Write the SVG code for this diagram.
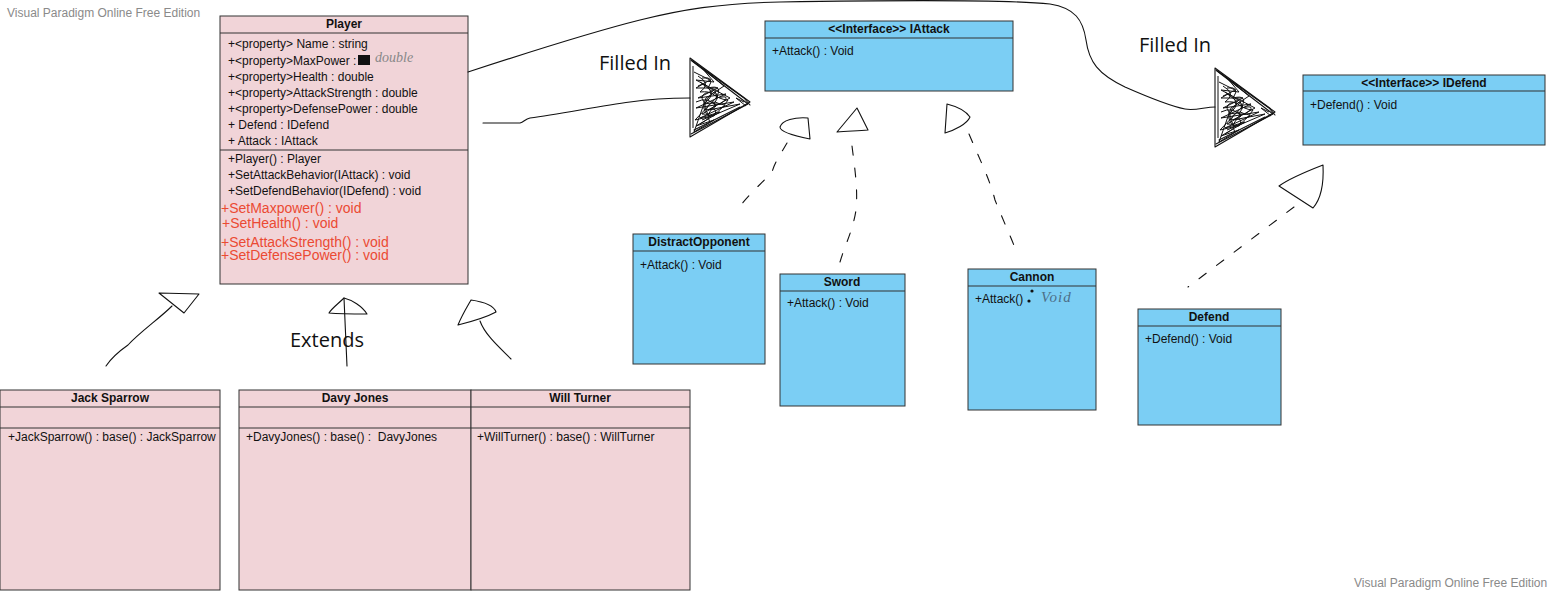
<svg xmlns="http://www.w3.org/2000/svg" width="1552" height="592" viewBox="0 0 1552 592">
<style>
.box{stroke:#333;stroke-width:1}
.pink{fill:#F1D4D8}
.blue{fill:#7BCEF4}
.div{stroke:#333;stroke-width:1}
.t{font-family:"Liberation Sans",Arial,sans-serif;font-size:12px;fill:#111}
.b{font-weight:bold;text-anchor:middle}
.red{font-family:"Liberation Sans",Arial,sans-serif;font-size:14px;fill:#EB4A33}
.wm{font-family:"Liberation Sans",Arial,sans-serif;font-size:12px;fill:#8a8a8a}
.hand{font-family:"Open Sans","Noto Sans",sans-serif;font-size:20px;fill:#111}
.ln{fill:none;stroke:#111;stroke-width:1.1;stroke-linecap:round;stroke-linejoin:round}
.dash{fill:none;stroke:#111;stroke-width:1.1;stroke-dasharray:9 13;stroke-linecap:round}
.scr{fill:none;stroke:#111;stroke-width:1;stroke-linejoin:round}
</style>
<defs>
<g id="filledTri">
<path class="ln" d="M0,0 L60,44 L0,79 Z"/>
<path class="ln" d="M2,3 L58,46 L1,76"/>
<path class="ln" d="M1,2 L54,40 L60,47 M4,72 L50,49"/>
<path class="scr" d="M4,14 L20,22 L6,30 L28,30 L8,40 L36,36 L6,50 L44,44 L10,60 L30,54 L6,68 L24,62 L4,74 L16,40 L34,28 L12,10 L24,24 L6,22 L40,40 L18,52 L50,46 L22,58 L5,62 L28,38 L10,24"/>
<path class="scr" d="M8,18 Q22,26 10,34 Q30,32 14,46 Q38,42 12,56 Q28,56 10,66 M20,30 Q32,36 24,46 Q42,46 30,50 M6,44 Q18,38 26,48 Q14,56 20,64 M54,44 L46,40 L56,48 M3,8 L3,70"/>
<path class="scr" d="M12,20 Q26,18 18,30 Q34,26 26,40 Q44,36 30,46 Q20,40 16,52 Q30,48 24,58 Q12,58 14,44 Q8,36 20,34 Q30,42 38,42 Q30,56 12,62 M8,28 Q16,22 22,36 Q10,46 18,56"/>
</g>
</defs>
<rect width="1552" height="592" fill="#fff"/>
<text class="wm" x="7" y="17">Visual Paradigm Online Free Edition</text>
<text class="wm" x="1354" y="587">Visual Paradigm Online Free Edition</text>

<g id="Player">
<rect class="box pink" x="220" y="16" width="248" height="268"/>
<line class="div" x1="220" y1="33" x2="468" y2="33"/>
<line class="div" x1="220" y1="150" x2="468" y2="150"/>
<text class="t b" x="344" y="28">Player</text>
<text class="t" x="228" y="48">+&lt;property&gt; Name : string</text>
<text class="t" x="228" y="65">+&lt;property&gt;MaxPower :</text>
<rect x="358" y="55" width="12" height="10" fill="#111"/>
<text x="375" y="62" style="font-family:'Liberation Serif',serif;font-style:italic;font-size:14px;fill:#888">double</text>
<text class="t" x="228" y="81">+&lt;property&gt;Health : double</text>
<text class="t" x="228" y="97">+&lt;property&gt;AttackStrength : double</text>
<text class="t" x="228" y="113">+&lt;property&gt;DefensePower : double</text>
<text class="t" x="228" y="129">+ Defend : IDefend</text>
<text class="t" x="228" y="145">+ Attack : IAttack</text>
<text class="t" x="228" y="163">+Player() : Player</text>
<text class="t" x="228" y="179">+SetAttackBehavior(IAttack) : void</text>
<text class="t" x="228" y="195">+SetDefendBehavior(IDefend) : void</text>
<text class="red" x="221" y="213">+SetMaxpower() : void</text>
<text class="red" x="222" y="228">+SetHealth() : void</text>
<text class="red" x="221" y="247">+SetAttackStrength() : void</text>
<text class="red" x="221" y="260">+SetDefensePower() : void</text>
</g>

<g id="IAttack">
<rect class="box blue" x="765" y="21" width="248" height="70"/>
<line class="div" x1="765" y1="38" x2="1013" y2="38"/>
<text class="t b" x="889" y="33">&lt;&lt;Interface&gt;&gt; IAttack</text>
<text class="t" x="772" y="55">+Attack() : Void</text>
</g>

<g id="IDefend">
<rect class="box blue" x="1303" y="75" width="242" height="70"/>
<line class="div" x1="1303" y1="91" x2="1545" y2="91"/>
<text class="t b" x="1424" y="87">&lt;&lt;Interface&gt;&gt; IDefend</text>
<text class="t" x="1310" y="109">+Defend() : Void</text>
</g>

<g id="DistractOpponent">
<rect class="box blue" x="633" y="234" width="132" height="130"/>
<line class="div" x1="633" y1="251" x2="765" y2="251"/>
<text class="t b" x="699" y="246">DistractOpponent</text>
<text class="t" x="640" y="269">+Attack() : Void</text>
</g>

<g id="Sword">
<rect class="box blue" x="780" y="274" width="125" height="132"/>
<line class="div" x1="780" y1="291" x2="905" y2="291"/>
<text class="t b" x="842" y="286">Sword</text>
<text class="t" x="787" y="307">+Attack() : Void</text>
</g>

<g id="Cannon">
<rect class="box blue" x="968" y="269" width="128" height="141"/>
<line class="div" x1="968" y1="286" x2="1096" y2="286"/>
<text class="t b" x="1032" y="281">Cannon</text>
<text class="t" x="975" y="303">+Attack()</text>
<circle cx="1032" cy="291" r="1.6" fill="#111"/>
<circle cx="1029" cy="301" r="1.6" fill="#111"/>
<text x="1041" y="302" style="font-family:'Liberation Serif',serif;font-style:italic;font-size:15px;fill:#4d6e88;letter-spacing:1px">Void</text>
</g>

<g id="Defend">
<rect class="box blue" x="1138" y="309" width="143" height="116"/>
<line class="div" x1="1138" y1="326" x2="1281" y2="326"/>
<text class="t b" x="1209" y="321">Defend</text>
<text class="t" x="1145" y="343">+Defend() : Void</text>
</g>

<g id="JackSparrow">
<rect class="box pink" x="0" y="390" width="220" height="200"/>
<line class="div" x1="0" y1="407" x2="220" y2="407"/>
<line class="div" x1="0" y1="428" x2="220" y2="428"/>
<text class="t b" x="110" y="402">Jack Sparrow</text>
<text class="t" x="8" y="441">+JackSparrow() : base() : JackSparrow</text>
</g>

<g id="DavyJones">
<rect class="box pink" x="239" y="390" width="232" height="200"/>
<line class="div" x1="239" y1="407" x2="471" y2="407"/>
<line class="div" x1="239" y1="428" x2="471" y2="428"/>
<text class="t b" x="355" y="402">Davy Jones</text>
<text class="t" x="246" y="441" xml:space="preserve">+DavyJones() : base() :  DavyJones</text>
</g>

<g id="WillTurner">
<rect class="box pink" x="471" y="390" width="219" height="200"/>
<line class="div" x1="471" y1="407" x2="690" y2="407"/>
<line class="div" x1="471" y1="428" x2="690" y2="428"/>
<text class="t b" x="580" y="402">Will Turner</text>
<text class="t" x="477" y="441">+WillTurner() : base() : WillTurner</text>
</g>

<g id="connectors">
<path class="ln" d="M468,72 C520,55 600,30 640,20 C680,10 720,3 780,2 C900,0 1010,0 1050,4 C1075,8 1083,20 1086,40 C1089,62 1098,74 1125,87 C1150,98 1170,106 1185,109 C1195,111 1205,107 1215,107"/>
<use href="#filledTri" x="1215" y="68"/>
<path class="ln" d="M483,123 L520,123 C524,122 525,119 530,118 C560,114 600,106 630,102 C650,99 670,98 690,98"/>
<use href="#filledTri" x="690" y="58"/>
<text class="hand" x="599" y="70">Filled In</text>
<text class="hand" x="1139" y="52">Filled In</text>

<path class="dash" d="M787,143 C780,155 775,162 772,172 C760,185 745,198 736,212"/>
<path class="ln" d="M808,118 C795,117 782,120 780,127 C780,132 795,136 810,139 L808,118 Z"/>
<path class="dash" d="M852,146 C855,170 858,190 856,210 C853,230 845,245 840,262"/>
<path class="ln" d="M857,108 L837,132 C848,131 858,131 868,130 L857,108 Z"/>
<path class="dash" d="M969,134 C980,160 990,180 995,200 C1003,220 1010,235 1015,248"/>
<path class="ln" d="M947,104 L945,133 C955,130 967,124 970,117 C965,110 955,106 947,104 Z"/>
<path class="dash" d="M1294,207 L1188,287"/>
<path class="ln" d="M1323,165 C1305,172 1290,178 1279,186 L1313,208 C1320,200 1324,185 1323,165 Z"/>

<path class="ln" d="M172,306 C160,318 140,332 128,345 C118,352 110,360 106,366"/>
<path class="ln" d="M159,293 L199,294 L184,313 L159,293 Z"/>
<path class="ln" d="M344,298 C345,320 346,345 347,366"/>
<path class="ln" d="M344,298 C338,304 332,308 329,313 C340,314 355,314 367,314 C362,306 352,300 344,298 Z"/>
<path class="ln" d="M480,321 C485,335 500,348 511,359"/>
<path class="ln" d="M471,300 C485,302 494,306 496,312 C485,318 470,322 458,325 C462,315 467,307 471,300 Z"/>
<text class="hand" x="290" y="347">Extends</text>
</g>
</svg>
